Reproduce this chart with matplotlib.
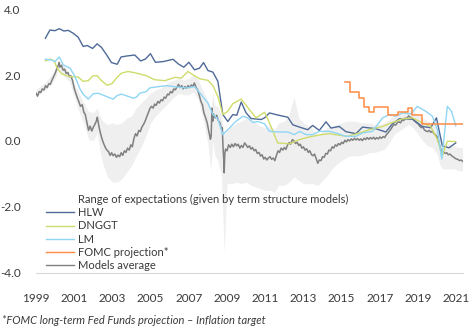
import matplotlib
matplotlib.use("Agg")
import matplotlib.pyplot as plt
from matplotlib.lines import Line2D

plt.rcParams["font.family"] = ["Lato", "DejaVu Sans"]

# ---- data (fractional years) ----
# models average, read roughly monthly off the chart
avg_t = [1999.0, 1999.08, 1999.17, 1999.25, 1999.33, 1999.42, 1999.5, 1999.58, 1999.67, 1999.75,
         1999.83, 1999.92, 2000.0, 2000.08, 2000.17, 2000.21, 2000.25, 2000.33, 2000.42, 2000.5,
         2000.58, 2000.67, 2000.75, 2000.83, 2000.92, 2001.0, 2001.08, 2001.17, 2001.25, 2001.33,
         2001.42, 2001.5, 2001.58, 2001.67, 2001.75, 2001.83, 2001.92, 2002.0, 2002.08, 2002.17,
         2002.21, 2002.29, 2002.38, 2002.46, 2002.54, 2002.63, 2002.71, 2002.79, 2002.88, 2002.96,
         2003.04, 2003.13, 2003.21, 2003.29, 2003.38, 2003.46, 2003.54, 2003.63, 2003.71, 2003.79,
         2003.88, 2003.96, 2004.04, 2004.13, 2004.21, 2004.29, 2004.38, 2004.46, 2004.54, 2004.63,
         2004.71, 2004.79, 2004.88, 2004.96, 2005.04, 2005.13, 2005.21, 2005.29, 2005.38, 2005.46,
         2005.54, 2005.63, 2005.71, 2005.79, 2005.88, 2005.96, 2006.04, 2006.13, 2006.21, 2006.29,
         2006.38, 2006.46, 2006.54, 2006.63, 2006.71, 2006.79, 2006.88, 2006.96, 2007.04, 2007.13,
         2007.21, 2007.29, 2007.38, 2007.46, 2007.54, 2007.63, 2007.71, 2007.79, 2007.88, 2007.96,
         2008.04, 2008.13, 2008.17, 2008.21, 2008.25, 2008.29, 2008.38, 2008.46, 2008.54, 2008.63,
         2008.71, 2008.75, 2008.79, 2008.83, 2008.85, 2008.88, 2008.92, 2009.0, 2009.08, 2009.17,
         2009.25, 2009.33, 2009.42, 2009.5, 2009.58, 2009.67, 2009.75, 2009.83, 2009.92, 2010.0,
         2010.08, 2010.17, 2010.25, 2010.33, 2010.42, 2010.5, 2010.58, 2010.67, 2010.75, 2010.83,
         2010.92, 2011.0, 2011.08, 2011.17, 2011.25, 2011.33, 2011.42, 2011.5, 2011.58, 2011.67,
         2011.75, 2011.83, 2011.92, 2012.0, 2012.08, 2012.17, 2012.25, 2012.33, 2012.42, 2012.5,
         2012.58, 2012.67, 2012.75, 2012.83, 2012.92, 2013.0, 2013.08, 2013.17, 2013.25, 2013.33,
         2013.42, 2013.5, 2013.58, 2013.67, 2013.75, 2013.83, 2013.92, 2014.0, 2014.08, 2014.17,
         2014.25, 2014.33, 2014.42, 2014.5, 2014.58, 2014.67, 2014.75, 2014.83, 2014.92, 2015.0,
         2015.08, 2015.17, 2015.25, 2015.33, 2015.42, 2015.5, 2015.58, 2015.67, 2015.75, 2015.83,
         2015.92, 2016.0, 2016.08, 2016.17, 2016.25, 2016.33, 2016.42, 2016.5, 2016.58, 2016.67,
         2016.75, 2016.83, 2016.92, 2017.0, 2017.08, 2017.17, 2017.25, 2017.33, 2017.42, 2017.5,
         2017.58, 2017.67, 2017.75, 2017.83, 2017.92, 2018.0, 2018.08, 2018.17, 2018.25, 2018.33,
         2018.42, 2018.5, 2018.58, 2018.67, 2018.75, 2018.83, 2018.92, 2019.0, 2019.08, 2019.17,
         2019.25, 2019.33, 2019.42, 2019.5, 2019.58, 2019.67, 2019.75, 2019.83, 2019.92, 2020.0,
         2020.08, 2020.17, 2020.25, 2020.33, 2020.42, 2020.5, 2020.58, 2020.67, 2020.75, 2020.83,
         2020.92, 2021.0, 2021.08, 2021.17, 2021.25, 2021.33]
avg_v = [1.45, 1.36, 1.50, 1.47, 1.58, 1.55, 1.68, 1.62, 1.74, 1.72,
         1.84, 1.95, 2.05, 2.18, 2.30, 2.38, 2.24, 2.30, 2.15, 2.18,
         2.05, 2.08, 1.95, 1.98, 1.82, 1.60, 1.45, 1.30, 1.18, 1.05,
         1.10, 0.88, 0.80, 0.55, 0.32, 0.45, 0.30, 0.42, 0.50, 0.62,
         0.72, 0.45, 0.22, 0.05, -0.08, -0.20, -0.28, -0.32, -0.44, -0.36,
         -0.45, -0.40, -0.50, -0.43, -0.48, -0.36, -0.44, -0.30, -0.35, -0.22,
         -0.28, -0.12, -0.18, 0.08, 0.22, 0.15, 0.32, 0.28, 0.42, 0.50,
         0.60, 0.72, 0.85, 0.98, 1.05, 1.00, 1.12, 1.08, 1.20, 1.15,
         1.25, 1.22, 1.33, 1.30, 1.42, 1.40, 1.50, 1.46, 1.58, 1.55,
         1.64, 1.72, 1.62, 1.68, 1.58, 1.65, 1.60, 1.68, 1.62, 1.70,
         1.66, 1.76, 1.62, 1.55, 1.40, 1.20, 1.10, 0.85, 0.70, 0.55,
         0.30, 0.05, 0.15, 1.00, 0.60, 0.82, 0.70, 0.78, 0.62, 0.55,
         0.35, 0.40, -0.20, -0.60, -0.97, -0.40, -0.25, -0.30, -0.12, -0.20,
         -0.10, -0.18, -0.08, -0.15, -0.10, -0.22, -0.14, -0.20, -0.06, -0.12,
         -0.20, -0.15, -0.25, -0.20, -0.30, -0.26, -0.38, -0.35, -0.46, -0.42,
         -0.55, -0.50, -0.58, -0.52, -0.48, -0.56, -0.52, -0.60, -0.45, -0.30,
         -0.35, -0.22, -0.28, -0.20, -0.26, -0.12, -0.05, -0.10, 0.04, 0.00,
         -0.08, -0.04, -0.14, -0.10, -0.22, -0.18, -0.28, -0.24, -0.35, -0.30,
         -0.42, -0.45, -0.40, -0.55, -0.68, -0.58, -0.60, -0.48, -0.50, -0.38,
         -0.40, -0.28, -0.30, -0.18, -0.22, -0.12, -0.16, -0.08, -0.12, -0.04,
         -0.08, 0.02, -0.03, 0.04, 0.00, 0.06, 0.02, 0.08, 0.03, 0.07,
         0.02, 0.06, 0.01, 0.08, 0.04, 0.10, 0.05, 0.10, 0.06, 0.11,
         0.05, 0.10, 0.06, 0.12, 0.08, 0.13, 0.10, 0.18, 0.24, 0.30,
         0.36, 0.45, 0.50, 0.48, 0.56, 0.58, 0.55, 0.64, 0.62, 0.70,
         0.68, 0.76, 0.72, 0.70, 0.66, 0.60, 0.55, 0.52, 0.45, 0.40,
         0.42, 0.33, 0.30, 0.28, 0.32, 0.26, 0.30, 0.22, 0.18, 0.12,
         -0.05, -0.22, -0.35, -0.34, -0.38, -0.36, -0.42, -0.40, -0.45, -0.48,
         -0.52, -0.55, -0.56, -0.60, -0.58, -0.62]

# range of expectations (band), quarterly
band_t = [1999.0, 1999.25, 1999.5, 1999.75, 2000.0, 2000.2, 2000.35, 2000.5, 2000.75,
          2001.0, 2001.25, 2001.5, 2001.75, 2002.0, 2002.2, 2002.35, 2002.5, 2002.75,
          2003.0, 2003.25, 2003.5, 2003.75, 2004.0, 2004.25, 2004.5, 2004.75,
          2005.0, 2005.25, 2005.5, 2005.75, 2006.0, 2006.25, 2006.5, 2006.75,
          2007.0, 2007.25, 2007.5, 2007.75, 2008.0, 2008.15, 2008.25, 2008.35,
          2008.5, 2008.7, 2008.85, 2009.0, 2009.25, 2009.5, 2009.75,
          2010.0, 2010.25, 2010.5, 2010.75, 2011.0, 2011.25, 2011.5, 2011.7,
          2012.0, 2012.25, 2012.5, 2012.75, 2013.0, 2013.25, 2013.5, 2013.75,
          2014.0, 2014.25, 2014.5, 2014.75, 2015.0, 2015.25, 2015.5, 2015.75,
          2016.0, 2016.25, 2016.5, 2016.75, 2017.0, 2017.25, 2017.5, 2017.75,
          2018.0, 2018.25, 2018.5, 2018.75, 2019.0, 2019.25, 2019.5, 2019.75,
          2020.0, 2020.15, 2020.3, 2020.6, 2020.9, 2021.1, 2021.33]
band_lo = [1.35, 1.45, 1.55, 1.68, 1.90, 2.20, 2.05, 1.95, 1.80,
           1.35, 0.90, 0.55, 0.05, 0.00, 0.25, -0.30, -0.70, -1.10,
           -1.25, -1.25, -1.15, -0.95, -0.75, -0.45, -0.20, 0.15,
           0.55, 0.75, 0.90, 1.05, 1.20, 1.35, 1.45, 1.40,
           1.40, 1.50, 1.25, 0.65, -0.10, -0.90, 0.00, -0.40,
           -0.60, -1.00, -3.40, -1.30, -1.30, -1.25, -1.30,
           -1.25, -1.35, -1.40, -1.45, -1.50, -1.50, -1.55, -1.35,
           -1.35, -1.25, -1.10, -1.20, -1.30, -1.30, -1.30, -1.35,
           -1.20, -1.05, -0.85, -0.70, -0.60, -0.50, -0.45, -0.45,
           -0.45, -0.40, -0.35, -0.35, -0.30, -0.25, -0.05, 0.20,
           0.30, 0.40, 0.50, 0.40, 0.20, 0.00, -0.15, -0.20,
           -0.40, -0.75, -0.85, -0.85, -0.85, -0.90, -0.90]
band_hi = [1.55, 1.68, 1.80, 1.95, 2.20, 2.45, 2.35, 2.25, 2.05,
           1.75, 1.45, 1.15, 0.90, 0.85, 1.00, 0.75, 0.60, 0.50,
           0.55, 0.50, 0.55, 0.70, 0.75, 1.00, 1.15, 1.30,
           1.45, 1.55, 1.60, 1.70, 1.80, 1.85, 1.90, 1.85,
           1.90, 2.00, 1.85, 1.50, 1.20, 0.90, 1.45, 1.10,
           1.05, 0.80, 0.20, 0.30, 0.45, 0.55, 0.60,
           0.70, 0.65, 0.55, 0.45, 0.40, 0.45, 0.35, 0.55,
           0.60, 0.80, 1.35, 0.70, 0.55, 0.45, 0.35, 0.15,
           0.30, 0.40, 0.45, 0.50, 0.55, 0.60, 0.60, 0.60,
           0.55, 0.55, 0.55, 0.50, 0.50, 0.55, 0.65, 0.80,
           0.85, 0.90, 0.95, 0.90, 0.80, 0.70, 0.60, 0.55,
           0.40, 0.15, -0.05, -0.10, -0.15, -0.20, -0.20]

hlw_t = [1999.49, 1999.73, 1999.99, 2000.22, 2000.46, 2000.69, 2000.95, 2001.21,
         2001.47, 2001.68, 2001.96, 2002.2, 2002.43, 2002.69, 2002.95, 2003.25,
         2003.45, 2003.74, 2004.17, 2004.48, 2004.73, 2004.99, 2005.25, 2005.65,
         2006.17, 2006.47, 2006.74, 2007.0, 2007.3, 2007.56, 2007.77, 2008.0,
         2008.26, 2008.52, 2008.78, 2009.04, 2009.3, 2009.51, 2009.74, 2010.0,
         2010.26, 2010.79, 2010.96, 2011.22, 2011.7, 2012.18, 2012.44, 2012.79,
         2013.22, 2013.48, 2013.83, 2014.18, 2014.44, 2014.87, 2015.22, 2015.75,
         2016.09, 2016.79, 2017.31, 2017.66, 2018.01, 2018.36, 2018.7, 2019.22,
         2019.66, 2019.96, 2020.27, 2020.62, 2020.97]
hlw_v = [3.12, 3.37, 3.35, 3.41, 3.34, 3.36, 3.27, 3.15,
         2.87, 2.90, 2.81, 2.95, 2.84, 2.62, 2.38, 2.33,
         2.55, 2.58, 2.61, 2.43, 2.49, 2.65, 2.39, 2.41,
         2.48, 2.33, 2.24, 2.39, 2.16, 2.21, 2.38, 2.14,
         2.09, 1.81, 0.80, 0.59, 0.80, 0.78, 1.18, 0.85,
         0.68, 0.65, 0.70, 0.85, 0.78, 0.72, 0.49, 0.42,
         0.34, 0.47, 0.32, 0.58, 0.39, 0.44, 0.28, 0.22,
         0.42, 0.37, 0.27, 0.52, 0.67, 0.67, 0.66, 0.44,
         0.40, 0.70, -0.15, -0.21, -0.06]

dnggt_t = [1999.49, 1999.73, 1999.95, 2000.11, 2000.34, 2000.69, 2001.21, 2001.47,
           2001.73, 2001.99, 2002.2, 2002.43, 2002.72, 2002.98, 2003.21, 2003.47,
           2003.82, 2004.26, 2004.78, 2005.21, 2005.74, 2006.26, 2006.61, 2006.95,
           2007.3, 2007.56, 2008.0, 2008.26, 2008.52, 2008.78, 2009.04, 2009.3,
           2009.74, 2010.17, 2010.52, 2010.96, 2011.22, 2011.65, 2012.26, 2012.79,
           2013.31, 2013.92, 2014.36, 2014.88, 2015.31, 2015.93, 2016.45, 2017.14,
           2017.66, 2018.18, 2018.7, 2019.22, 2019.66, 2020.01, 2020.27, 2020.53,
           2020.97]
dnggt_v = [2.43, 2.49, 2.43, 2.21, 2.04, 1.96, 1.94, 1.81,
           1.83, 1.98, 1.98, 1.83, 1.69, 1.74, 1.91, 2.06,
           2.11, 2.06, 1.98, 1.86, 1.83, 1.93, 1.91, 2.11,
           1.98, 1.89, 1.84, 1.68, 1.35, 0.80, 0.90, 1.13,
           1.27, 0.95, 0.70, 0.87, 0.55, -0.06, -0.09, 0.04,
           0.12, 0.19, 0.22, 0.17, 0.14, 0.24, 0.34, 0.44,
           0.56, 0.67, 0.70, 0.55, 0.44, 0.04, -0.45, -0.01,
           -0.02]

lm_t = [1999.49, 1999.82, 1999.99, 2000.22, 2000.43, 2000.78, 2001.04, 2001.3,
        2001.47, 2001.73, 2001.99, 2002.25, 2002.69, 2003.04, 2003.25, 2003.47,
        2003.74, 2004.08, 2004.26, 2004.43, 2004.78, 2004.95, 2005.3, 2005.82,
        2006.35, 2006.87, 2007.3, 2007.56, 2008.0, 2008.26, 2008.52, 2008.78,
        2009.13, 2009.39, 2009.83, 2010.09, 2010.35, 2010.61, 2010.96, 2011.22,
        2011.74, 2012.18, 2012.52, 2012.79, 2013.14, 2013.48, 2013.83, 2014.36,
        2014.7, 2015.22, 2015.75, 2016.09, 2016.61, 2017.14, 2017.49, 2017.83,
        2018.18, 2018.62, 2018.96, 2019.4, 2019.75, 2020.01, 2020.24, 2020.53,
        2020.75, 2020.97]
lm_v = [2.48, 2.46, 2.41, 2.55, 2.31, 2.21, 1.96, 1.58,
        1.42, 1.27, 1.43, 1.45, 1.35, 1.27, 1.38, 1.42,
        1.37, 1.30, 1.33, 1.45, 1.50, 1.61, 1.64, 1.68,
        1.64, 1.61, 1.65, 1.47, 1.15, 0.80, 0.67, 0.19,
        0.39, 0.56, 0.75, 0.70, 0.56, 0.59, 0.52, 0.29,
        0.27, 0.27, 0.19, 0.29, 0.19, 0.19, 0.29, 0.29,
        0.24, 0.14, 0.14, 0.24, 0.29, 0.70, 0.80, 0.75,
        0.85, 0.82, 1.05, 0.90, 0.75, 0.34, -0.55, 1.05,
        0.90, 0.46]

fomc_t = [2015.19, 2015.45, 2015.92, 2016.18, 2016.44, 2016.70, 2017.45,
          2017.97, 2018.48, 2018.70, 2019.19, 2021.35]
fomc_v = [1.79, 1.50, 1.30, 1.02, 0.89, 1.02, 0.80,
          0.88, 1.00, 0.80, 0.50, 0.50]

year_ticks = [1999, 2001, 2003, 2005, 2007, 2009, 2011, 2013, 2015, 2017, 2019, 2021]
y_ticks = [-4.0, -2.0, 0.0, 2.0, 4.0]

legend_labels = ["Range of expectations (given by term structure models)", "HLW",
                 "DNGGT", "LM", "FOMC projection*", "Models average"]

C_HLW = "#4f6a98"
C_DNGGT = "#cfdc6a"
C_LM = "#8fd6f5"
C_FOMC = "#ff8c42"
C_AVG = "#808080"
C_BAND = "#efefef"
TXT = "#3a3a3a"

fig = plt.figure(figsize=(4.70, 3.31), dpi=100)
ax = fig.add_axes([36 / 470, 58.5 / 331, 427 / 470, 263.2 / 331])

ax.fill_between(band_t, band_lo, band_hi, color=C_BAND, lw=0, zorder=1)
ax.plot(hlw_t, hlw_v, color=C_HLW, lw=1.0, zorder=3)
ax.plot(dnggt_t, dnggt_v, color=C_DNGGT, lw=1.0, zorder=3)
ax.plot(lm_t, lm_v, color=C_LM, lw=1.0, zorder=3)
ax.plot(fomc_t, fomc_v, color=C_FOMC, lw=1.1, drawstyle="steps-post", zorder=3)
ax.plot(avg_t, avg_v, color=C_AVG, lw=1.1, zorder=2)

ax.set_xlim(1999, 2021.35)
ax.set_ylim(-4, 4)
ax.set_xticks(year_ticks)
ax.set_xticklabels([str(y) for y in year_ticks])
ax.set_yticks(y_ticks)
ax.set_yticklabels([f"{v:.1f}" for v in y_ticks])
ax.tick_params(axis="both", length=0, labelsize=8.5, colors=TXT)
ax.tick_params(axis="x", pad=15)
ax.tick_params(axis="y", pad=11)
for s in ["top", "right", "left"]:
    ax.spines[s].set_visible(False)
ax.spines["bottom"].set_color("#d9d9d9")
ax.spines["bottom"].set_linewidth(0.8)

handles = [Line2D([], [], color="none"),
           Line2D([], [], color=C_HLW, lw=1.0),
           Line2D([], [], color=C_DNGGT, lw=1.0),
           Line2D([], [], color=C_LM, lw=1.0),
           Line2D([], [], color=C_FOMC, lw=1.0),
           Line2D([], [], color=C_AVG, lw=1.0)]
leg = ax.legend(handles, legend_labels, loc="upper left",
                bbox_to_anchor=(10 / 427, (272.5 - 194) / 263.2),
                frameon=False, fontsize=8, handlelength=2.5, handletextpad=0.35,
                labelspacing=0.2, borderaxespad=0, borderpad=0)
for t in leg.get_texts():
    t.set_color(TXT)

fig.text(2 / 470, 1 - 320 / 331, "*FOMC long-term Fed Funds projection \u2013 Inflation target",
         fontsize=8, style="italic", color=TXT, va="center", ha="left")

fig.savefig("out.png", dpi=100)
